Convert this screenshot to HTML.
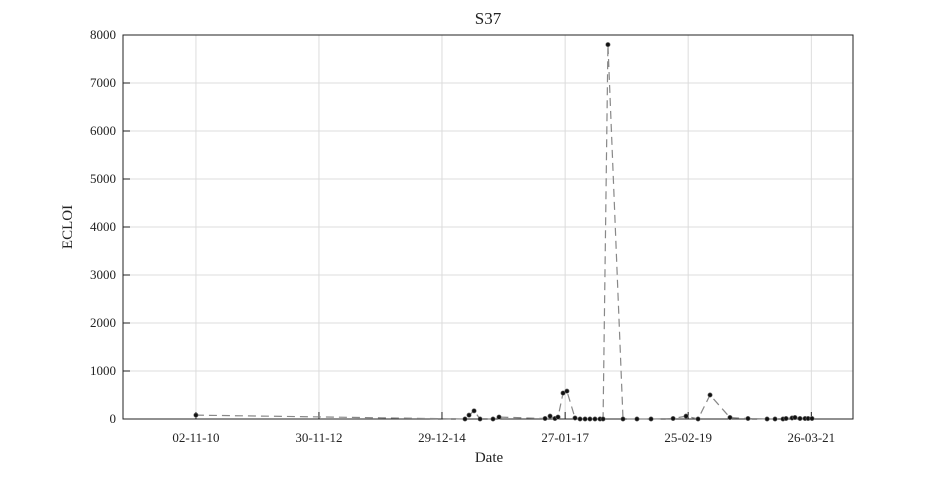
<!DOCTYPE html>
<html><head><meta charset="utf-8"><style>
body{margin:0;background:#fff;font-family:"Liberation Serif",serif}
svg text{font-family:"Liberation Serif",serif;fill:#222}
</style></head><body>
<svg id="c" width="945" height="472"></svg>
<script>
const days=[0,1660,1685,1716,1753,1833,1870,2154,2185,2215,2234,2265,2289,2339,2370,2401,2431,2462,2493,2512,2542,2635,2721,2808,2944,3024,3098,3172,3295,3406,3524,3573,3622,3641,3678,3696,3727,3758,3777,3801];
const values=[80,0,80,170,0,0,40,10,60,10,40,540,580,20,0,0,0,0,0,0,7800,0,0,0,10,60,0,500,30,10,0,0,0,10,20,30,10,10,10,10];
const xTickDays=[0,759,1518,2278,3037,3797];
const xTickLabels=["02-11-10","30-11-12","29-12-14","27-01-17","25-02-19","26-03-21"];
const yTicks=[0,1000,2000,3000,4000,5000,6000,7000,8000];
const L=123,R=853,T=35,B=419,xMin=-450,xMax=4054,yMax=8000;
const X=d=>L+(d-xMin)/(xMax-xMin)*(R-L);
const Y=v=>B-v/yMax*(B-T);
const svg=document.getElementById('c');const NS='http://www.w3.org/2000/svg';
function mk(t,a,txt){const e=document.createElementNS(NS,t);for(const k in a)e.setAttribute(k,a[k]);if(txt!=null)e.textContent=txt;svg.appendChild(e);return e;}
xTickDays.forEach((d,i)=>{const x=X(d);
const g=mk('line',{x1:x,x2:x,y1:T,y2:B,stroke:'#dcdcdc'});


const t=mk('line',{x1:x,x2:x,y1:B,y2:B-7,stroke:'#222'});


const l=mk('text',{x:x,y:442,'text-anchor':'middle','font-size':13},xTickLabels[i]);

});
yTicks.forEach(v=>{const y=Y(v);
const g=mk('line',{x1:L,x2:R,y1:y,y2:y,stroke:'#dcdcdc'});


const t=mk('line',{x1:L,x2:L+7,y1:y,y2:y,stroke:'#222'});


const l=mk('text',{x:L-7,y:y+4,'text-anchor':'end','font-size':13},v);

});
const box=mk('rect',{x:L,y:T,width:R-L,height:B-T,fill:'none',stroke:'#222'});


const line=mk('polyline',{points:days.map((d,i)=>X(d)+','+Y(values[i])).join(' '),fill:'none',stroke:'#888','stroke-dasharray':'8,5','stroke-width':1.2});


days.forEach((d,i)=>{const c=mk('circle',{cx:X(d),cy:Y(values[i]),r:2.2,fill:'#111',stroke:'#777','stroke-width':0.6});

});
const ti=mk('text',{x:488,y:24,'text-anchor':'middle','font-size':17},'S37');


const xl=mk('text',{x:489,y:462,'text-anchor':'middle','font-size':15},'Date');


const yl=mk('text',{x:0,y:0,'text-anchor':'middle','font-size':15,transform:'translate(72,227) rotate(-90)'},'ECLOI');


</script>
</body></html>
